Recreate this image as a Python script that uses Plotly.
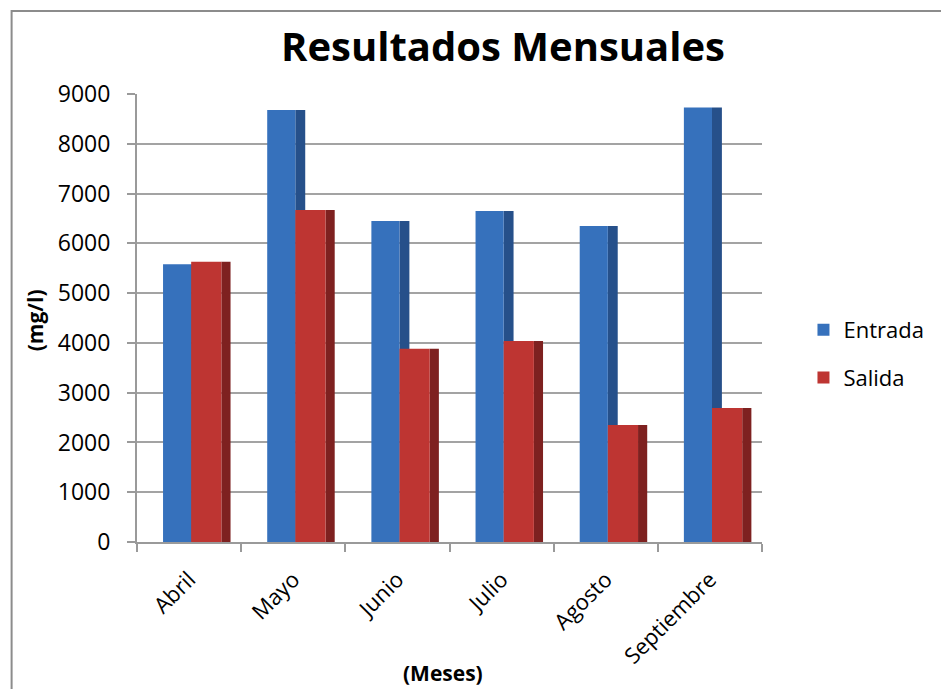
import plotly.graph_objects as go

meses = ["Abril", "Mayo", "Junio", "Julio", "Agosto", "Septiembre"]
entrada = [5580, 8680, 6450, 6650, 6350, 8730]
salida = [5630, 6670, 3880, 4040, 2350, 2690]
y_ticks = [0, 1000, 2000, 3000, 4000, 5000, 6000, 7000, 8000, 9000]

# plot area in pixels
L, R, T, B = 137, 770, 94, 542
W, H = 941, 689
pw, ph = R - L, B - T

def px(x):
    return (x - L) / pw

def py(y):
    return (B - y) / ph

blue_front, blue_side = "#3671BC", "#26508A"
red_front, red_side = "#BE3532", "#7E2120"

fig = go.Figure()
# side faces (3D look) drawn from the same data
fig.add_trace(go.Bar(x=meses, y=entrada, offset=0.02, width=0.095,
                     marker=dict(color=blue_side, line=dict(width=0)),
                     showlegend=False, hoverinfo="skip"))
fig.add_trace(go.Bar(x=meses, y=entrada, name="Entrada", offset=-0.25, width=0.27,
                     marker=dict(color=blue_front, line=dict(width=0)),
                     legendgroup="a"))
fig.add_trace(go.Bar(x=meses, y=salida, offset=0.31, width=0.088,
                     marker=dict(color=red_side, line=dict(width=0)),
                     showlegend=False, hoverinfo="skip"))
fig.add_trace(go.Bar(x=meses, y=salida, name="Salida", offset=0.02, width=0.29,
                     marker=dict(color=red_front, line=dict(width=0)),
                     legendgroup="b"))

font = "Open Sans"
fig.update_layout(
    width=W, height=H,
    margin=dict(l=L, r=W - R, t=T, b=H - B),
    barmode="overlay",
    paper_bgcolor="white", plot_bgcolor="white",
    font=dict(family=font, size=22, color="#000000"),
    showlegend=True,
    legend=dict(x=px(812), y=py(309), xanchor="left", yanchor="top",
                font=dict(size=22, family=font, color="#000000"),
                traceorder="grouped", tracegroupgap=16,
                bgcolor="rgba(0,0,0,0)"),
    xaxis=dict(type="category", showgrid=False, showline=True, linecolor="#9A9A9A",
               linewidth=2, ticks="outside", tickson="boundaries", ticklen=8,
               tickcolor="#9A9A9A", tickwidth=2, tickangle=-45,
               ticklabelstandoff=14,
               tickfont=dict(size=22, family=font, color="#000000"),
               range=[-0.5, 5.5], fixedrange=True),
    yaxis=dict(range=[0, 9000], tickvals=y_ticks, showgrid=True, gridcolor="#A3A3A3",
               gridwidth=2, showline=True, linecolor="#9A9A9A", linewidth=2,
               ticks="outside", ticklen=8, tickcolor="#9A9A9A", tickwidth=2,
               ticklabelstandoff=12, zeroline=False,
               tickfont=dict(size=23, family=font, color="#000000")),
    annotations=[
        dict(text="<b>Resultados Mensuales</b>", x=px(508), y=py(45), xref="paper",
             yref="paper", showarrow=False, xanchor="center", yanchor="middle",
             font=dict(size=40, family=font, color="#000000")),
        dict(text="<b>(mg/l)</b>", x=px(34), y=py(320), xref="paper", yref="paper",
             showarrow=False, textangle=-90, xanchor="center", yanchor="middle",
             font=dict(size=21, family=font, color="#000000")),
        dict(text="<b>(Meses)</b>", x=px(447), y=py(673), xref="paper", yref="paper",
             showarrow=False, xanchor="center", yanchor="middle",
             font=dict(size=21, family=font, color="#000000")),
    ],
    shapes=[
        dict(type="rect", xref="paper", yref="paper", x0=px(10), x1=px(960),
             y0=py(720), y1=py(11), line=dict(color="#8C8C8C", width=2),
             fillcolor="rgba(0,0,0,0)", layer="below"),
    ],
)

fig.write_html("out.html")
